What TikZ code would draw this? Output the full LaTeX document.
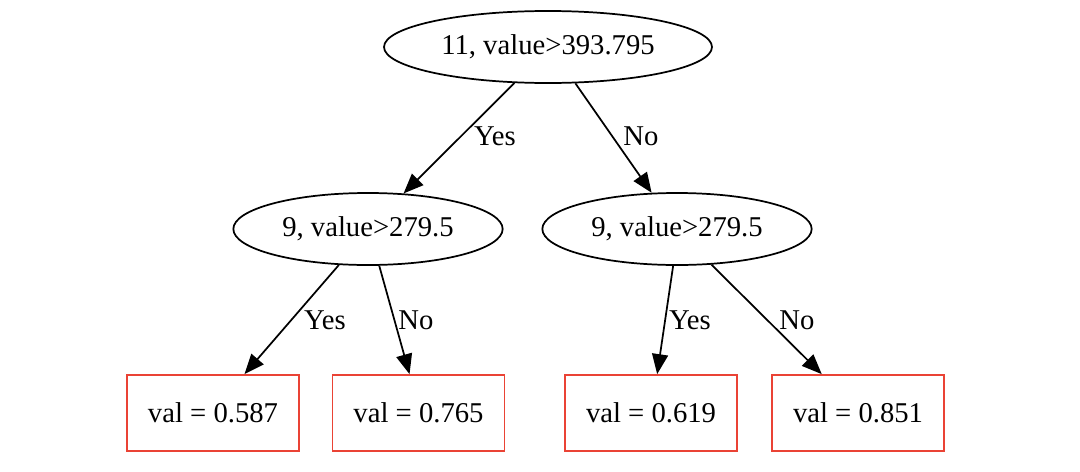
\documentclass[tikz,border=0pt]{standalone}
\usepackage{fontspec}
\setmainfont{Liberation Serif}
\usetikzlibrary{shapes.geometric,arrows.meta}
\definecolor{leafred}{RGB}{234,67,53}
\begin{document}
\begin{tikzpicture}[x=0.75pt,y=-0.75pt,
  every node/.style={font=\fontsize{21.5pt}{24pt}\selectfont},
  split/.style={ellipse,draw=black,line width=1.3pt,inner sep=0pt,minimum height=54pt},
  leaf/.style={rectangle,draw=leafred,line width=1.3pt,inner sep=0pt,minimum width=129pt,minimum height=57pt},
  edge/.style={draw=black,line width=1.3pt,-{Triangle[length=15pt,width=12pt]}},
  elabel/.style={inner sep=0pt}]
\useasboundingbox (0,0) rectangle (1080,471);
\node[split,minimum width=246pt] (root) at (548,47) {11, value>393.795};
\node[split,minimum width=202pt] (L) at (368,229) {9, value>279.5};
\node[split,minimum width=202pt] (R) at (677,229) {9, value>279.5};
\node[leaf] (b1) at (213,413) {val = 0.587};
\node[leaf] (b2) at (418.5,413) {val = 0.765};
\node[leaf] (b3) at (651,413) {val = 0.619};
\node[leaf] (b4) at (858,413) {val = 0.851};
\draw[edge] (root.227) -- (L.45);
\draw[edge] (root.307) -- (R.125);
\draw[edge] (L.231) -- (b1.51);
\draw[edge] (L.287) -- (b2.103);
\draw[edge] (R.264) -- (b3.81);
\draw[edge] (R.314) -- (b4.133);
\node[elabel] (y1) at (495,136) {Yes};
\node[elabel] (n1) at (641,136) {No};
\node[elabel] (y2) at (325,320) {Yes};
\node[elabel] (n2) at (416,320) {No};
\node[elabel] (y3) at (690,320) {Yes};
\node[elabel] (n3) at (797,320) {No};
\end{tikzpicture}
\end{document}
